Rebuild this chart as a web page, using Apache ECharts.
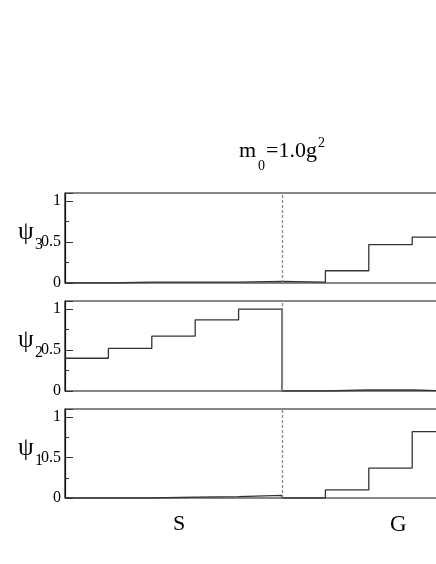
<!DOCTYPE html>
<html>
<head>
<meta charset="utf-8">
<script src="https://cdn.jsdelivr.net/npm/echarts@6/dist/echarts.min.js"></script>
<style>
  html, body { margin: 0; padding: 0; background: #ffffff; }
  #chart { width: 436px; height: 564px; }
</style>
</head>
<body>
<div id="chart"></div>
<script>
// site index 1..10: sites 1-5 are the S region, 6-10 the G region
const sites = [1, 2, 3, 4, 5, 6, 7, 8, 9, 10]
const psi3 = [0.0, 0.01, 0.01, 0.01, 0.02, 0.01, 0.15, 0.47, 0.56, 0.6]
const psi2 = [0.40, 0.52, 0.67, 0.87, 1.0, 0.0, 0.012, 0.012, 0.0, 0.0]
const psi1 = [0.0, 0.0, 0.012, 0.016, 0.033, 0.0, 0.10, 0.37, 0.82, 1.0]
const yTickLabels = [0, 0.5, 1]
const regionLabels = ['S', 'G']
const boundary = 5

const serif = '"Liberation Serif", "DejaVu Serif", serif'
const panels = [
  { name: '3', values: psi3, top: 193, height: 90 },
  { name: '2', values: psi2, top: 301, height: 90 },
  { name: '1', values: psi1, top: 409, height: 89 },
]

// step data: value of site i spans [i-1, i]
function stepData(values) {
  const pts = values.map((v, i) => [sites[i] - 1, v])
  pts.push([sites[sites.length - 1], values[values.length - 1]])
  return pts
}

const grids = []
const xAxes = []
const yAxes = []
const series = []
const graphics = []

panels.forEach((p, k) => {
  // the frame runs past the right edge of the picture, as in the cropped original
  grids.push({
    left: 65, top: p.top, width: 434, height: p.height,
    outerBoundsMode: 'none', containLabel: false,
    show: true, borderColor: '#111', borderWidth: 1.2, backgroundColor: 'transparent',
  })
  xAxes.push({
    type: 'value', gridIndex: k, min: 0, max: sites.length,
    axisLine: { show: false }, axisTick: { show: false },
    axisLabel: { show: false }, splitLine: { show: false },
  })
  // minor ticks + labels
  yAxes.push({
    type: 'value', gridIndex: k, position: 'left', min: 0, max: 1.1, interval: 0.25,
    axisLine: { show: true, lineStyle: { color: '#111', width: 1.2 } },
    axisTick: { show: true, inside: true, length: 4, lineStyle: { color: '#333' } },
    axisLabel: {
      margin: 4, color: '#000', fontFamily: serif, fontSize: 16,
      showMaxLabel: false,
      formatter: (v) => (yTickLabels.includes(v) ? String(v) : ''),
    },
    splitLine: { show: false },
  })
  // major ticks
  yAxes.push({
    type: 'value', gridIndex: k, position: 'left', offset: 0, min: 0, max: 1.1, interval: 0.5,
    axisLine: { show: false },
    axisTick: { show: true, inside: true, length: 8, lineStyle: { color: '#333' } },
    axisLabel: { show: false }, splitLine: { show: false },
  })
  series.push({
    type: 'line', xAxisIndex: k, yAxisIndex: k * 2, step: 'end',
    data: stepData(p.values), symbol: 'none', silent: true,
    lineStyle: { color: '#333', width: 1.3 },
    markLine: {
      silent: true, symbol: 'none', label: { show: false },
      lineStyle: { color: '#888', type: [3, 2], width: 1.3 },
      data: [{ xAxis: boundary }],
    },
  })
  const mid = p.top + p.height - p.height * 0.5 / 1.1
  graphics.push({
    type: 'text', left: 18, top: mid - 22,
    style: { text: 'ψ', font: '25px ' + serif, fill: '#000' },
  })
  graphics.push({
    type: 'text', left: 35, top: mid - 5,
    style: { text: p.name, font: '16px ' + serif, fill: '#000' },
  })
})

// title m0=1.0g^2
graphics.push({ type: 'text', left: 239, top: 140, style: { text: 'm', font: '22px ' + serif, fill: '#000' } })
graphics.push({ type: 'text', left: 258, top: 159, style: { text: '0', font: '14px ' + serif, fill: '#000' } })
graphics.push({ type: 'text', left: 266, top: 140, style: { text: '=1.0g', font: '22px ' + serif, fill: '#000' } })
graphics.push({ type: 'text', left: 318, top: 136, style: { text: '2', font: '14px ' + serif, fill: '#000' } })

// region labels under the bottom panel
graphics.push({ type: 'text', left: 173, top: 513, style: { text: regionLabels[0], font: '22px ' + serif, fill: '#000' } })
graphics.push({ type: 'text', left: 390, top: 513, style: { text: regionLabels[1], font: '23px ' + serif, fill: '#000' } })

const chart = echarts.init(document.getElementById('chart'), null, { renderer: 'canvas' })
chart.setOption({
  animation: false,
  backgroundColor: '#ffffff',
  grid: grids,
  xAxis: xAxes,
  yAxis: yAxes,
  series: series,
  graphic: graphics,
})
</script>
</body>
</html>
